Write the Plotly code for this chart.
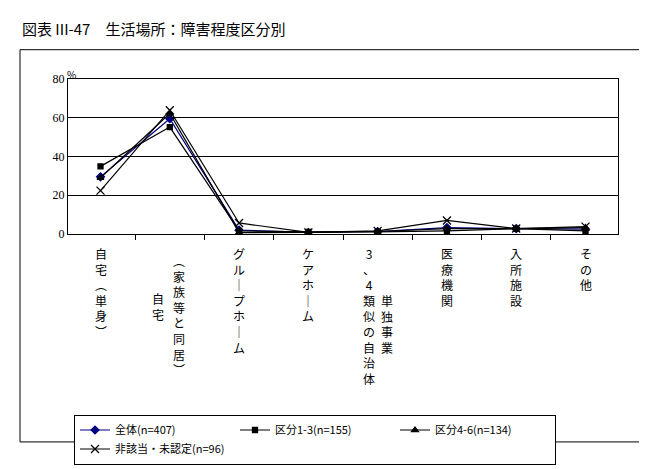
import plotly.graph_objects as go

categories = ["自宅（単身）", "自宅（家族等と同居）", "グループホーム", "ケアホーム",
              "3、4類似の自治体単独事業", "医療機関", "入所施設", "その他"]
# vertical label columns: (text, x shift px, top y px)
label_cols = [
    [("自宅︵単身︶", 0, 244)],
    [("自宅", -12, 292), ("︵家族等と同居︶", 9, 252)],
    [("グル｜プホ｜ム", 0, 244)],
    [("ケアホ｜ム", 0, 244)],
    [("3、4類似の自治体", -9, 244), ("単独事業", 9, 294)],
    [("医療機関", 0, 244)],
    [("入所施設", 0, 244)],
    [("その他", 0, 244)],
]
series_names = ["全体(n=407)", "区分1-3(n=155)", "区分4-6(n=134)", "非該当・未認定(n=96)"]
v_all = [29.5, 59.5, 2.0, 0.8, 1.3, 3.3, 2.8, 2.5]
v_13 = [34.9, 55.2, 1.6, 1.1, 1.1, 1.6, 2.8, 1.6]
v_46 = [29.0, 62.2, 0.7, 0.8, 1.3, 2.8, 2.8, 3.3]
v_na = [22.4, 63.9, 5.7, 0.8, 1.6, 7.0, 2.8, 3.8]
y_ticks = [0, 20, 40, 60, 80]

W, H = 647, 469
L, R, T, B = 60, 610, 71, 235
ph = B - T
def py(p):
    return (B - p) / ph
def px(p):
    return (p - L) / (R - L)

FONT = "Noto Sans CJK JP"
fig = go.Figure()
styles = [("#000080", "diamond", 6), ("black", "square", 5), ("black", "triangle-up", 6), ("black", "x-thin-open", 8)]
for name, vals, (c, sym, sz) in zip(series_names, [v_all, v_13, v_46, v_na], styles):
    fig.add_trace(go.Scatter(x=categories, y=vals, name=name, mode="lines+markers",
                             line=dict(color=c, width=1.2),
                             marker=dict(symbol=sym, size=sz, color=c, line=dict(color=c, width=1.3))))

ann = [dict(text="図表 III-47　生活場所：障害程度区分別", xref="paper", yref="paper",
            x=px(12), y=py(18), xanchor="left", yanchor="middle", showarrow=False,
            font=dict(size=15, family=FONT, color="black")),
       dict(text="%", xref="paper", yref="paper", x=px(57), y=py(66), xanchor="left",
            yanchor="middle", showarrow=False, font=dict(size=10, family=FONT, color="black"))]
for cat, cols in zip(categories, label_cols):
    for txt, dx, top in cols:
        ann.append(dict(text="<br>".join(txt), x=cat, xref="x", yref="paper", y=py(top),
                        xanchor="center", yanchor="top", xshift=dx, showarrow=False,
                        font=dict(size=12, family=FONT, color="black")))
frame = [(12, 40, 637, 40), (12, 455, 637, 455), (12, 40, 12, 455), (637, 40, 637, 455)]
fig.update_layout(
    width=W, height=H, margin=dict(l=L, r=W - R, t=T, b=H - B),
    paper_bgcolor="white", plot_bgcolor="white",
    font=dict(family=FONT, color="black", size=12),
    showlegend=True,
    legend=dict(orientation="h", x=px(66), y=py(426), xanchor="left", yanchor="top",
                bordercolor="black", borderwidth=1, font=dict(size=11, family=FONT),
                entrywidth=115, itemwidth=30, tracegroupgap=0),
    annotations=ann,
    shapes=[dict(type="line", xref="paper", yref="paper", x0=px(a), y0=py(b), x1=px(c), y1=py(d),
                 line=dict(color="black", width=1), layer="above") for a, b, c, d in frame],
    xaxis=dict(type="category", showticklabels=False, ticks="outside", tickson="boundaries",
               ticklen=5, tickcolor="black", showline=True, linecolor="black", mirror=True,
               showgrid=False),
    yaxis=dict(range=[0, 80], tickvals=y_ticks, showgrid=True, gridcolor="black", gridwidth=1,
               showline=True, linecolor="black", mirror=True, ticks="", zeroline=False,
               tickfont=dict(size=12, family="Liberation Serif")),
)
fig.write_html("out.html")
